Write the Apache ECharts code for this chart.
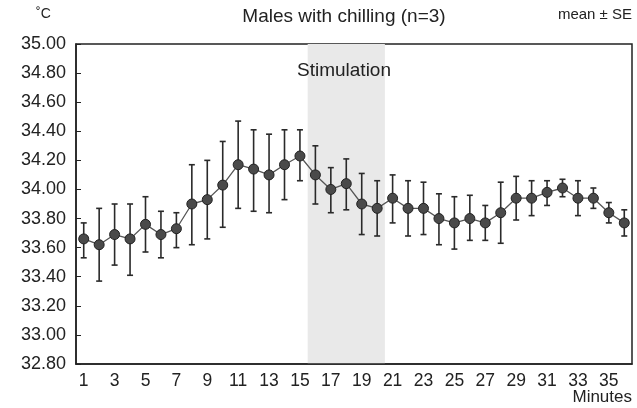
<!DOCTYPE html>
<html>
<head>
<meta charset="utf-8">
<script src="https://cdn.jsdelivr.net/npm/echarts@6/dist/echarts.min.js"></script>
<style>
  html, body { margin: 0; padding: 0; background: #fff; }
  #chart { width: 637px; height: 408px; }
</style>
</head>
<body>
<div id="chart"></div>
<script>
// minutes 1..36
const minutes = Array.from({ length: 36 }, (_, i) => String(i + 1));

const meanTemp = [
  33.66, 33.62, 33.69, 33.66, 33.76, 33.69, 33.73, 33.90, 33.93, 34.03, 34.17, 34.14,
  34.10, 34.17, 34.23, 34.10, 34.00, 34.04, 33.90, 33.87, 33.94, 33.87, 33.87, 33.80,
  33.77, 33.80, 33.77, 33.84, 33.94, 33.94, 33.98, 34.01, 33.94, 33.94, 33.84, 33.77
];

const upperSE = [
  33.77, 33.87, 33.90, 33.90, 33.95, 33.85, 33.84, 34.17, 34.20, 34.33, 34.47, 34.41,
  34.38, 34.41, 34.41, 34.30, 34.15, 34.21, 34.11, 34.06, 34.10, 34.06, 34.05, 33.97,
  33.95, 33.96, 33.89, 34.05, 34.09, 34.06, 34.06, 34.07, 34.06, 34.01, 33.91, 33.86
];

const lowerSE = [
  33.53, 33.37, 33.48, 33.41, 33.57, 33.53, 33.60, 33.62, 33.66, 33.74, 33.87, 33.85,
  33.84, 33.93, 34.06, 33.90, 33.84, 33.86, 33.69, 33.68, 33.77, 33.68, 33.69, 33.62,
  33.59, 33.65, 33.65, 33.63, 33.79, 33.82, 33.89, 33.95, 33.82, 33.87, 33.77, 33.68
];

// stimulation window (first and last minute shaded)
const stimulation = [16, 20];

const FONT = 'Liberation Sans, Arial, sans-serif';
const INK = '#222';

const chart = echarts.init(document.getElementById('chart'));

const errorData = meanTemp.map((_, i) => [i, lowerSE[i], upperSE[i]]);

const txt = size => ({ fontSize: size, fontWeight: 'normal', color: INK, fontFamily: FONT });

chart.setOption({
  animation: false,
  backgroundColor: '#fff',
  textStyle: { fontFamily: FONT, color: INK },
  title: [
    { text: 'Males with chilling (n=3)', left: 344, top: 7, padding: 0, textAlign: 'center', textStyle: txt(19) },
    { text: 'mean ± SE', right: 5, top: 7, padding: 0, textStyle: txt(15) },
    { text: '˚C', left: 36, top: 7, padding: 0, textStyle: txt(14) },
    { text: 'Stimulation', left: 344, top: 61, padding: 0, textAlign: 'center', textStyle: txt(19) },
    { text: 'Minutes', right: 5, top: 389, padding: 0, textStyle: txt(17) }
  ],
  grid: {
    left: 76, right: 5, top: 44, bottom: 44,
    show: true, borderColor: INK, borderWidth: 1.5, containLabel: false
  },
  xAxis: {
    type: 'category',
    data: minutes,
    boundaryGap: true,
    axisLine: { lineStyle: { color: INK, width: 1.5 } },
    axisTick: { inside: true, interval: 0, length: 4, lineStyle: { color: INK } },
    axisLabel: { interval: 1, fontSize: 17.5, color: INK, fontFamily: FONT, margin: 8 },
    splitLine: { show: false }
  },
  yAxis: {
    type: 'value',
    min: 32.8, max: 35.0, interval: 0.2,
    axisLine: { show: true, lineStyle: { color: INK, width: 1.5 } },
    axisTick: { show: true, inside: true, length: 5, lineStyle: { color: INK } },
    axisLabel: {
      fontSize: 18, color: INK, fontFamily: FONT, margin: 10,
      formatter: v => v.toFixed(2)
    },
    splitLine: { show: false }
  },
  series: [
    {
      type: 'custom',
      name: 'stimulation',
      silent: true,
      z: 0,
      data: [[stimulation[0] - 1, stimulation[1] - 1]],
      encode: { x: [0, 1] },
      renderItem: (params, api) => {
        const a = api.coord([api.value(0), 35]);
        const b = api.coord([api.value(1), 35]);
        const w = api.size([1, 0])[0];
        const cs = params.coordSys;
        return {
          type: 'rect',
          shape: { x: a[0] - w / 2, y: cs.y, width: b[0] - a[0] + w, height: cs.height },
          style: { fill: '#e9e9e9' }
        };
      }
    },
    {
      type: 'custom',
      name: 'SE',
      silent: true,
      z: 2,
      data: errorData,
      encode: { x: 0, y: [1, 2] },
      renderItem: (params, api) => {
        const lo = api.coord([api.value(0), api.value(1)]);
        const hi = api.coord([api.value(0), api.value(2)]);
        const cap = 3;
        const style = { stroke: '#2a2a2a', lineWidth: 1.6 };
        return {
          type: 'group',
          children: [
            { type: 'line', shape: { x1: lo[0], y1: lo[1], x2: hi[0], y2: hi[1] }, style },
            { type: 'line', shape: { x1: hi[0] - cap, y1: hi[1], x2: hi[0] + cap, y2: hi[1] }, style },
            { type: 'line', shape: { x1: lo[0] - cap, y1: lo[1], x2: lo[0] + cap, y2: lo[1] }, style }
          ]
        };
      }
    },
    {
      type: 'line',
      name: 'mean',
      z: 3,
      data: meanTemp,
      symbol: 'circle',
      symbolSize: 10,
      lineStyle: { color: '#555', width: 1.3 },
      itemStyle: { color: '#4a4a4a', borderColor: '#222', borderWidth: 1 }
    }
  ]
});
</script>
</body>
</html>
